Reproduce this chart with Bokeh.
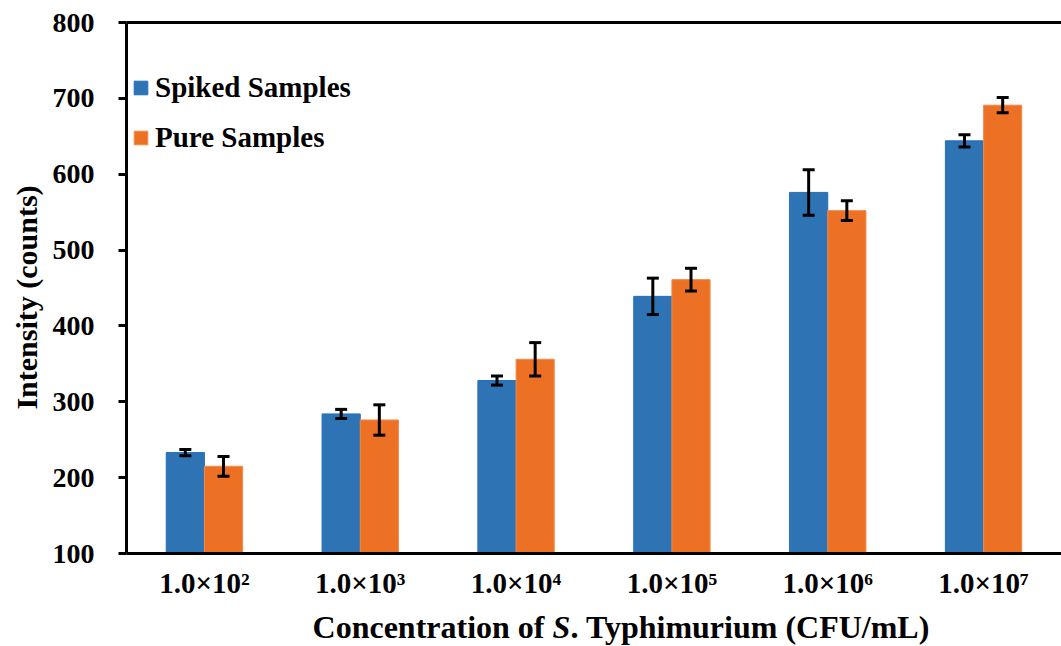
import math
from bokeh.plotting import figure
from bokeh.models import (ColumnDataSource, Whisker, TeeHead, Label, FixedTicker,
                          Range1d, LinearAxis)
from bokeh.transform import dodge
from bokeh.embed import file_html
from bokeh.resources import INLINE

categories = ["1.0×10²", "1.0×10³", "1.0×10⁴", "1.0×10⁵", "1.0×10⁶", "1.0×10⁷"]
spiked = [233, 284, 328, 439, 576, 644]
spiked_err = [4, 6, 6, 24, 30, 8]
pure = [215, 276, 356, 461, 552, 691]
pure_err = [13, 20, 22, 15, 13, 10]
y_ticks = [100, 200, 300, 400, 500, 600, 700, 800]
y_min, y_max = 100, 800

BLUE = "#2E74B5"
ORANGE = "#ED7125"
FONT = "Liberation Serif"

W, H = 1061, 646
# plot-area placement on the canvas (pixels)
LEFT, TOP, BOTTOM, RIGHT = 126, 22, 553, 1061
n = len(categories)
cw = (RIGHT - LEFT) / n                 # px per category
k = (BOTTOM - TOP) / (y_max - y_min)    # px per y unit

def xs(px):
    return (px - LEFT) / cw

def ys(py):
    return y_max - (py - TOP) / k

centers = [i + 0.5 for i in range(n)]

src = ColumnDataSource(dict(
    xc=centers,
    spiked=spiked,
    s_up=[v + e for v, e in zip(spiked, spiked_err)],
    s_lo=[v - e for v, e in zip(spiked, spiked_err)],
    pure=pure,
    p_up=[v + e for v, e in zip(pure, pure_err)],
    p_lo=[v - e for v, e in zip(pure, pure_err)],
))

p = figure(x_range=Range1d(xs(0), xs(W)), y_range=Range1d(ys(H), ys(0)),
           width=W, height=H, output_backend="svg", toolbar_location=None,
           min_border=0, x_axis_location=None, y_axis_location=None)
p.outline_line_color = None
p.grid.grid_line_color = None

bw = 0.245
p.vbar(x=dodge("xc", -bw / 2), top="spiked", bottom=y_min, width=bw,
       source=src, fill_color=BLUE, line_color="#1F6FC0", line_width=1,
       legend_label="Spiked Samples")
p.vbar(x=dodge("xc", bw / 2), top="pure", bottom=y_min, width=bw,
       source=src, fill_color=ORANGE, line_color="#F28A4A", line_width=1,
       legend_label="Pure Samples")

for off, up, lo in [(-bw / 2, "s_up", "s_lo"), (bw / 2, "p_up", "p_lo")]:
    w = Whisker(base=dodge("xc", off), upper=up, lower=lo, source=src,
                line_color="black", line_width=3, level="overlay",
                upper_head=TeeHead(size=12, line_width=3, line_color="black"),
                lower_head=TeeHead(size=12, line_width=3, line_color="black"))
    p.add_layout(w)

# axes, fixed at the plot-area edges
yax = LinearAxis(fixed_location=0, bounds=(y_min, y_max), ticker=FixedTicker(ticks=y_ticks))
yax.axis_line_width = 3
yax.major_tick_line_width = 3
yax.major_tick_out = 8
yax.major_tick_in = 0
yax.minor_tick_line_color = None
yax.major_label_text_font = FONT
yax.major_label_text_font_style = "bold"
yax.major_label_text_font_size = "28px"
yax.major_label_text_color = "black"
yax.major_label_standoff = 24
p.add_layout(yax, "left")

xax = LinearAxis(fixed_location=y_min, bounds=(0, n), ticker=FixedTicker(ticks=centers),
                 major_label_overrides={c: lab for c, lab in zip(centers, categories)})
xax.axis_line_width = 3
xax.major_tick_line_color = None
xax.minor_tick_line_color = None
xax.major_label_text_font = FONT
xax.major_label_text_font_style = "bold"
xax.major_label_text_font_size = "29px"
xax.major_label_text_color = "black"
xax.major_label_standoff = 7
p.add_layout(xax, "below")

top_ax = LinearAxis(fixed_location=y_max, bounds=(0, n), ticker=FixedTicker(ticks=[]))
top_ax.axis_line_width = 3
top_ax.major_tick_line_color = None
top_ax.minor_tick_line_color = None
p.add_layout(top_ax, "above")

# axis titles
p.add_layout(Label(x=xs(26), y=ys(297), text="Intensity (counts)", angle=math.pi / 2,
                   text_align="center", text_baseline="middle", text_font=FONT,
                   text_font_style="bold", text_font_size="30px", text_color="black"))

s_left = 552
common = dict(y=ys(626), text_font=FONT, text_font_size="32px", text_color="black",
              text_baseline="middle")
p.add_layout(Label(x=xs(s_left), text="Concentration of ", text_align="right",
                   text_font_style="bold", **common))
p.add_layout(Label(x=xs(s_left), text="S", text_align="left",
                   text_font_style="bold italic", **common))
p.add_layout(Label(x=xs(s_left + 18), text=". Typhimurium (CFU/mL)", text_align="left",
                   text_font_style="bold", **common))

# legend
lg = p.legend[0]
lg.location = (132, 492)
lg.border_line_color = None
lg.background_fill_alpha = 0
lg.padding = 0
lg.margin = 0
lg.spacing = 17
lg.glyph_width = 17
lg.glyph_height = 17
lg.label_height = 30
lg.label_standoff = 6
lg.label_text_font = FONT
lg.label_text_font_style = "bold"
lg.label_text_font_size = "29px"
lg.label_text_color = "black"

open("out.html", "w").write(file_html(p, INLINE))
